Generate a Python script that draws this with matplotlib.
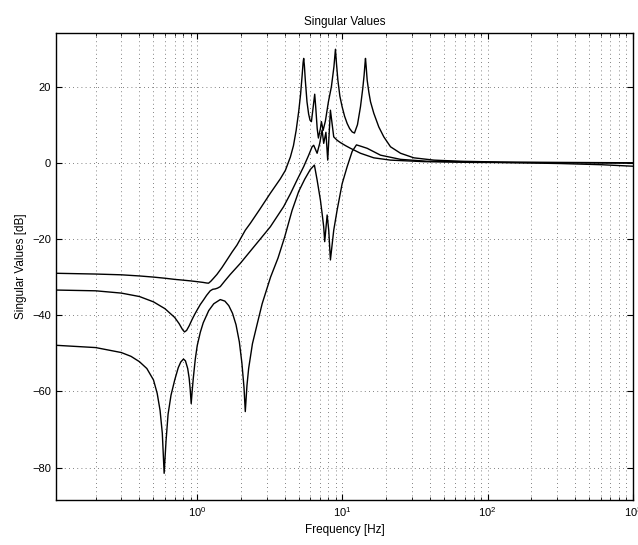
import numpy as np
import matplotlib
matplotlib.use("Agg")
from matplotlib import pyplot as plt
from matplotlib.ticker import LogLocator, NullFormatter, MultipleLocator

plt.rcParams['font.family'] = ['Liberation Sans', 'DejaVu Sans']

# singular value curves (frequency in Hz, value in dB)
f_sv1 = [0.1066, 0.2, 0.3, 0.4, 0.5, 0.6, 0.7, 0.8, 0.9, 1.0,
         1.1, 1.16, 1.197, 1.24, 1.289, 1.367, 1.48, 1.602, 1.74, 1.878,
         2.143, 2.32, 2.72, 3.187, 3.736, 4.045, 4.379, 4.6, 4.8, 5.0,
         5.15, 5.28, 5.36, 5.41, 5.47, 5.55, 5.7, 5.85, 5.98, 6.113,
         6.26, 6.442, 6.55, 6.7, 6.832, 7.053, 7.166, 7.361, 7.635, 8.005,
         8.396, 8.737, 8.949, 9.1, 9.3, 9.6, 9.95, 10.35, 10.78, 11.2,
         11.67, 12.1, 12.69, 13.31, 13.8, 14.1, 14.3, 14.41, 14.55, 14.8,
         15.2, 15.61, 16.44, 17.8, 19.27, 21.43, 25.12, 31.02, 42.63, 65.14,
         122.9, 318.7, 1000]
sv1 = [-29.0, -29.2, -29.4, -29.7, -30.0, -30.3, -30.6, -30.8, -31.0, -31.2,
       -31.4, -31.55, -31.6, -31.1, -30.4, -29.3, -27.5, -25.5, -23.4, -21.6,
       -17.7, -15.9, -12.0, -8.0, -4.2, -2.0, 1.5, 4.5, 8.5, 13.5,
       18.0, 23.0, 26.3, 27.4, 25.5, 21.7, 16.0, 12.8, 11.2, 10.8,
       14.0, 18.0, 14.5, 9.0, 6.5, 9.0, 10.8, 8.5, 11.0, 16.0,
       20.0, 25.2, 29.8, 26.0, 21.7, 17.5, 14.7, 12.2, 10.3, 9.0,
       8.1, 7.8, 10.0, 14.7, 19.5, 23.0, 26.0, 27.4, 25.5, 21.7,
       18.5, 16.0, 13.0, 9.4, 6.8, 4.2, 2.5, 1.3, 0.7, 0.4,
       0.2, 0.1, 0.0]

f_sv2 = [0.1066, 0.2, 0.3, 0.4, 0.5, 0.6, 0.7, 0.75, 0.79, 0.8173,
         0.845, 0.88, 0.92, 0.96, 1.0, 1.05, 1.105, 1.16, 1.229, 1.28,
         1.331, 1.38, 1.441, 1.55, 1.689, 1.98, 2.32, 2.72, 3.187, 3.937,
         4.4, 4.871, 5.41, 5.856, 6.181, 6.341, 6.692, 6.974, 7.244, 7.43,
         7.695, 7.918, 8.264, 8.71, 9.2, 9.687, 10.5, 11.36, 13.31, 16.44,
         21.43, 36.37, 76.35, 318.7, 1000]
sv2 = [-33.4, -33.6, -34.2, -35.1, -36.5, -38.3, -40.6, -42.2, -43.7, -44.4,
       -44.0, -42.8, -41.2, -39.8, -38.6, -37.2, -36.0, -34.8, -33.6, -33.2,
       -33.1, -32.9, -32.5, -31.0, -29.3, -26.4, -23.2, -20.0, -16.8, -11.5,
       -8.0, -4.5, -1.0, 2.0, 4.2, 4.6, 2.5, 5.1, 8.6, 5.1,
       8.0, 0.7, 13.8, 6.8, 5.9, 5.3, 4.5, 3.8, 2.5, 1.3,
       0.7, 0.3, 0.1, 0.0, -0.1]

f_sv3 = [0.1066, 0.2, 0.3, 0.35, 0.4, 0.45, 0.5, 0.53, 0.555, 0.575,
         0.592, 0.61, 0.63, 0.66, 0.7, 0.74, 0.77, 0.8043, 0.83, 0.86,
         0.88, 0.895, 0.909, 0.925, 0.94, 0.97, 1.0, 1.05, 1.1, 1.2,
         1.3, 1.441, 1.55, 1.65, 1.75, 1.85, 1.95, 2.03, 2.1, 2.143,
         2.2, 2.26, 2.4, 2.6, 2.8, 3.2, 3.6, 4.0, 4.5, 5.0,
         5.5, 6.0, 6.411, 6.692, 7.053, 7.244, 7.43, 7.549, 7.846, 8.047,
         8.264, 8.71, 9.193, 9.952, 10.78, 11.67, 12.49, 13.5, 14.8, 18.29,
         25.12, 38.38, 65.14, 122.9, 318.7, 601.6, 1000]
sv3 = [-47.9, -48.5, -49.8, -50.8, -52.2, -54.0, -57.0, -60.5, -65.0, -71.0,
       -81.5, -73.0, -66.0, -61.0, -57.0, -53.8, -52.3, -51.5, -52.0, -54.0,
       -56.5, -59.5, -63.2, -59.5, -56.5, -51.5, -48.0, -44.5, -42.0, -38.8,
       -37.0, -35.9, -36.3, -37.5, -39.5, -42.5, -47.0, -52.5, -59.0, -65.3,
       -58.5, -54.0, -47.5, -42.0, -37.0, -30.0, -25.0, -19.5, -12.5, -7.5,
       -4.3, -1.8, -0.6, -4.5, -9.8, -13.3, -16.8, -20.7, -13.7, -17.7,
       -25.5, -17.7, -12.4, -5.5, -1.0, 3.0, 4.7, 4.3, 3.8, 2.0,
       0.9, 0.4, 0.3, 0.1, -0.2, -0.5, -0.9]

fig = plt.figure(figsize=(6.38, 5.45), dpi=100)
ax = fig.add_axes([0.0878, 0.0826, 0.9042, 0.8564])

ax.semilogx(f_sv1, sv1, color="black", lw=1.0)
ax.semilogx(f_sv2, sv2, color="black", lw=1.0)
ax.semilogx(f_sv3, sv3, color="black", lw=1.0)

ax.set_xlim(0.1066, 1000)
ax.set_ylim(-88.5, 34)
ax.yaxis.set_major_locator(MultipleLocator(20))
ax.xaxis.set_major_locator(LogLocator(base=10, numticks=10))
ax.xaxis.set_minor_locator(LogLocator(base=10, subs=np.arange(2, 10), numticks=20))
ax.xaxis.set_minor_formatter(NullFormatter())

grid_style = dict(linestyle=(0, (1, 4)), color="0.35", lw=0.6)
ax.grid(True, which="major", **grid_style)
ax.grid(True, which="minor", axis="x", **grid_style)
ax.tick_params(which="both", direction="in", top=True, right=True, labelsize=8)
ax.tick_params(which="major", length=4)
ax.tick_params(which="minor", length=2)
for s in ax.spines.values():
    s.set_linewidth(1.0)

ax.set_title("Singular Values", fontsize=8.5)
ax.set_xlabel("Frequency [Hz]", fontsize=8.5)
ax.set_ylabel("Singular Values [dB]", fontsize=8.5)

plt.savefig("out.png", dpi=100)
